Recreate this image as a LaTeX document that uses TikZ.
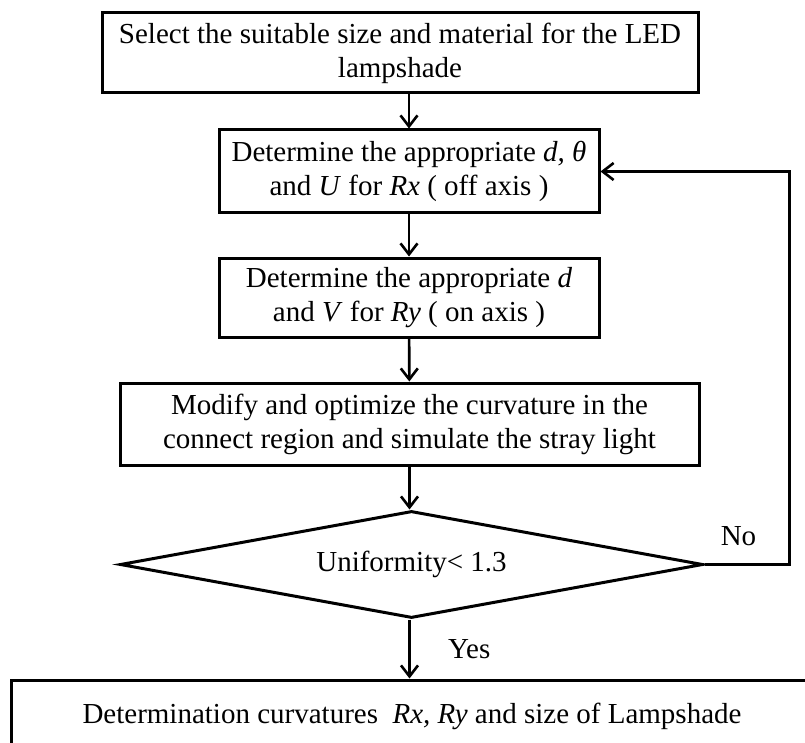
\documentclass[tikz,border=0pt]{standalone}
\usepackage{fontspec}
\setmainfont{Liberation Serif}
\usetikzlibrary{shapes.geometric,arrows.meta}

\begin{document}
\begin{tikzpicture}[x=1pt, y=-1pt, font=\fontsize{29}{34}\selectfont,
    box/.style={draw, line width=3pt, align=center, inner sep=0pt},
    test/.style={draw, shape=diamond, line width=3pt, inner sep=0pt, aspect=5.4,
        minimum width=583pt, minimum height=107pt},
    flow/.style={line width=2.6pt, -{Straight Barb[length=11pt, width=17pt]}}]
    \useasboundingbox (0,0) rectangle (805,743);
    \clip (0,0) rectangle (805,743);
    % the steps, top to bottom
    \node[box, minimum width=596pt, minimum height=80pt] (sel) at (400,53)
        {Select the suitable size and material for the LED\\lampshade};
    \node[box, minimum width=380pt, minimum height=83pt] (offax) at (409,171.5)
        {Determine the appropriate \textit{d, θ}\\and \textit{U} for \textit{Rx} ( off axis )};
    \node[box, minimum width=380pt, minimum height=79pt] (onax) at (409,297.5)
        {Determine the appropriate \textit{d}\\and \textit{V} for \textit{Ry} ( on axis )};
    \node[box, minimum width=579pt, minimum height=82pt] (modif) at (409.5,424)
        {Modify and optimize the curvature in the\\connect region and simulate the stray light};
    \node[test] (unif) at (411.5,564.5) {Uniformity< 1.3};
    \node[box, minimum width=802pt, minimum height=72pt] (final) at (412,716)
        {Determination curvatures~ \textit{Rx, Ry} and size of Lampshade};
    % connectors
    \draw[flow] (sel.south -| offax.north) -- (offax.north);
    \draw[flow] (offax) -- (onax);
    \draw[flow] (onax) -- (modif);
    \draw[flow] (modif.south) -- (modif.south |- unif.north);
    \draw[flow] (unif.south -| modif.south) -- (final.north -| modif.south)
        node[midway, right=34pt] {Yes};
    \draw[flow] (unif.east) -- ++(85,0) node[pos=.4, above=14pt] {No} |- (offax.east);
\end{tikzpicture}
\end{document}
